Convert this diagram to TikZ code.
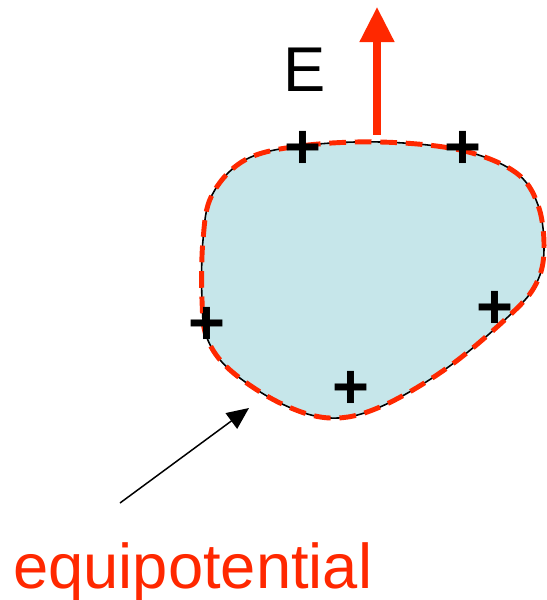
\documentclass[tikz,border=0pt]{standalone}
\usepackage{fontspec}
\setmainfont{Liberation Sans}
\usetikzlibrary{arrows.meta}
\definecolor{fieldred}{RGB}{255,40,0}
\definecolor{condblue}{RGB}{198,230,234}
\begin{document}
\begin{tikzpicture}[x=0.2mm, y=-0.2mm,
    charge/.style={inner sep=0pt, font=\fontsize{36}{40}\selectfont\bfseries},
    every node/.style={font=\fontsize{36}{40}\selectfont}]
    \useasboundingbox (0,0) rectangle (546,600);
    % conductor
    \draw[fill=condblue, line width=0.9pt] plot[smooth cycle, tension=0.6] coordinates {
        (380,142) (460,150) (515,172) (538,205) (544,250) (536,284) (510,315)
        (447,368) (380,407) (330,418) (280,403) (230,370) (207,338) (202,300)
        (203,240) (212,195) (245,160) (300,146)};
    \draw[fieldred, line width=2.8pt, dash pattern=on 9.5pt off 5pt] plot[smooth cycle, tension=0.6] coordinates {
        (380,142) (460,150) (515,172) (538,205) (544,250) (536,284) (510,315)
        (447,368) (380,407) (330,418) (280,403) (230,370) (207,338) (202,300)
        (203,240) (212,195) (245,160) (300,146)};
    % surface charges
    \node[charge] (q1) at (303,150) {+};
    \node[charge] (q2) at (463,150) {+};
    \node[charge] (q3) at (495,310) {+};
    \node[charge] (q4) at (207,326) {+};
    \node[charge] (q5) at (351,390) {+};
    % field
    \coordinate (base) at (377,135);
    \coordinate (tip) at (377,7);
    \draw[fieldred, line width=4pt, -{Triangle[length=20pt, width=19pt]}] (base) -- (tip);
    \node (efield) at (305,70) {E};
    % label
    \node[fieldred, anchor=base west, inner sep=0pt] (equi) at (13,588) {equipotential};
    \coordinate (tail) at (120,503);
    \coordinate (edge) at (249,408);
    \draw[line width=0.85pt, -{Triangle[length=12.5pt, width=11pt]}] (tail) -- (edge);
\end{tikzpicture}
\end{document}
